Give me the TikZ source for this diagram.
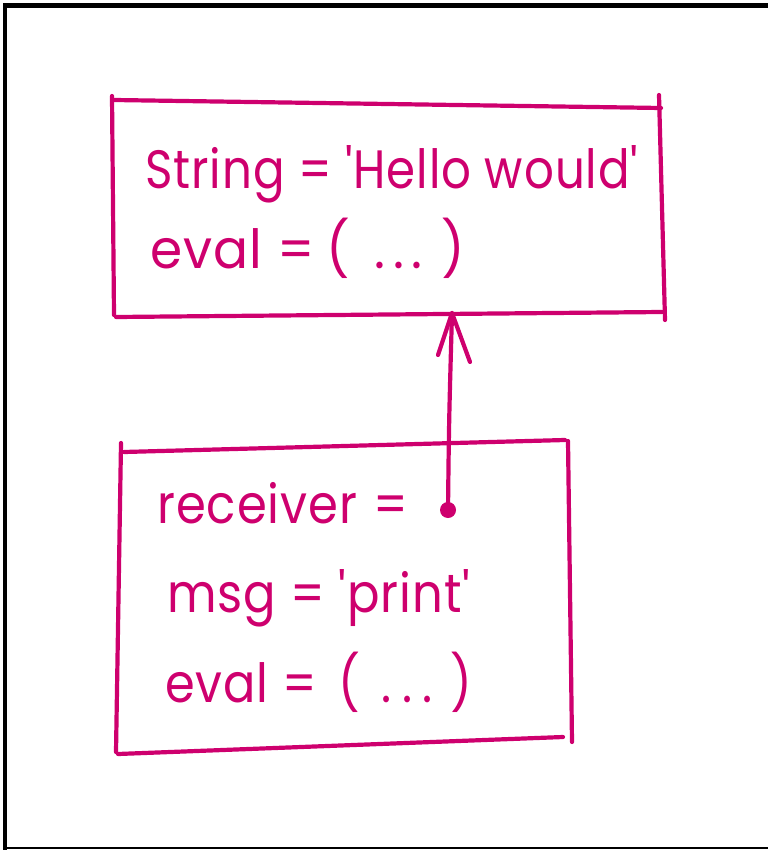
\documentclass[tikz,border=0pt]{standalone}
\usepackage{graphicx}
\usepackage{fontspec}
\setmainfont{Poppins}[Ligatures=TeXOff,LetterSpace=2]
\definecolor{ink}{RGB}{206,0,110}
% set a line of text at a given width, keeping its natural height
\newcommand{\fitw}[2]{\resizebox{#1}{\height}{#2}}
\begin{document}
\begin{tikzpicture}[x=1pt,y=-1pt,
  pen/.style={draw=ink,line width=4.2pt,line cap=round,line join=round},
  label/.style={anchor=base west,inner sep=0pt,text=ink,font=\fontsize{54}{58}\selectfont}]
\useasboundingbox (0,0) rectangle (768,850);
% page frame
\fill[black] (3,3) rectangle (768,8);
\fill[black] (3,3) rectangle (7,850);
\fill[black] (3,847) rectangle (768,849);

% object box: string
\draw[pen] (112,96) -- (114,315);
\draw[pen] (114,100) -- (661,108);
\draw[pen] (659,95) -- (665,320);
\draw[pen] (116,317) -- (662,312);
\node[label] (str) at (145,189) {\fitw{493pt}{String = 'Hello would'}};
\node[label] (eval1) at (150,268) {\fitw{315pt}{eval =\hspace{12pt}(\hspace{26pt}.\hspace{8pt}.\hspace{8pt}.\hspace{20pt})}};

% object box: message
\draw[pen] (121,443) -- (116,752);
\draw[pen] (124,452) -- (565,440);
\draw[pen] (568,441) -- (572,742);
\draw[pen] (118,754) -- (563,737);
\node[label] (recv) at (157,523) {\fitw{251pt}{receiver\hspace{18pt}=}};
\node[label] (msg) at (167,612) {\fitw{303pt}{msg = 'print'}};
\node[label] (eval2) at (165,702) {\fitw{307pt}{eval =\hspace{24pt}(\hspace{24pt}.\hspace{12pt}.\hspace{12pt}.\hspace{20pt})}};

% pointer from receiver to the string object
\coordinate (tip) at (452,313);
\coordinate (src) at (448,510);
\fill[ink] (src) circle (8);
\draw[pen] (src) .. controls (449,420) .. (tip);
\draw[pen] (438,355) -- (tip) -- (470,362);
\end{tikzpicture}
\end{document}
